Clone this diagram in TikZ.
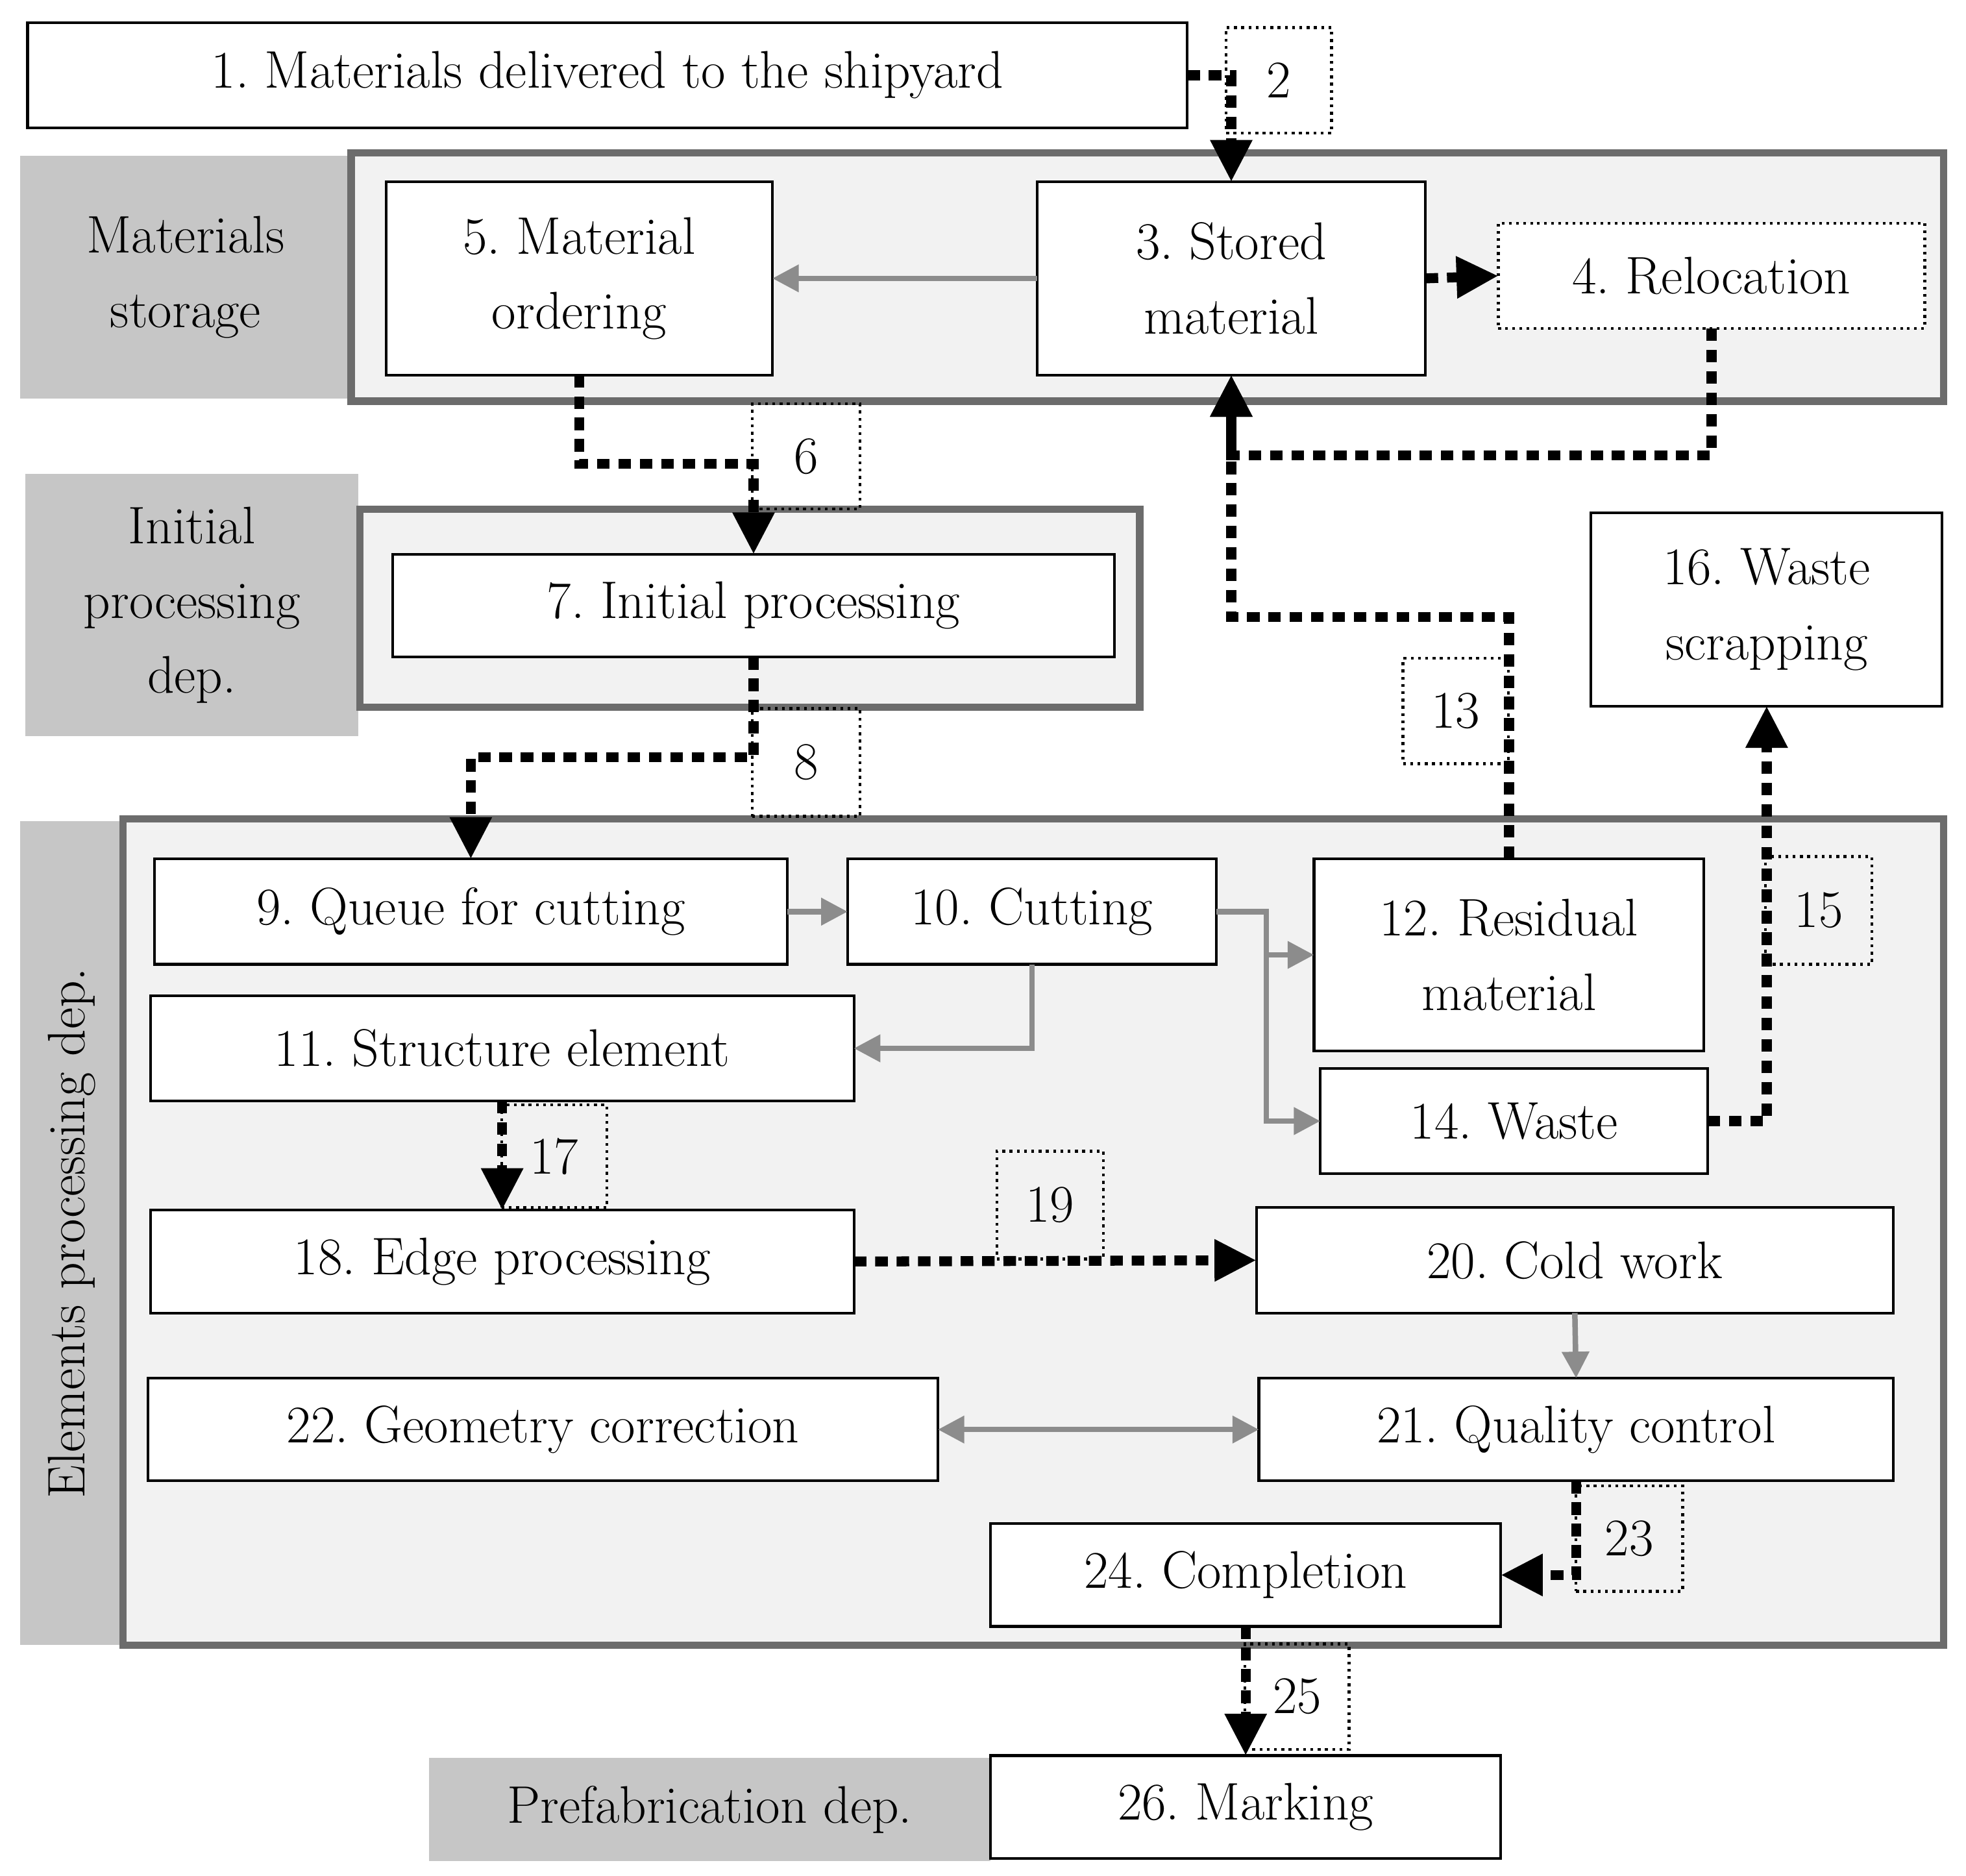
\documentclass[tikz,border=0pt]{standalone}
\usepackage{tikz}
\usetikzlibrary{arrows.meta}
\frenchspacing

\begin{document}
\begin{tikzpicture}[
x=0.02cm, y=-0.02cm,
font=\fontsize{24}{34}\selectfont,
sz/.style 2 args={minimum width=#1*0.02cm, minimum height=#2*0.02cm},
box/.style={draw=black, line width=1.2pt, fill=white, align=center, inner sep=0pt, outer sep=0pt},
tag/.style={draw=black, line width=1.3pt, dotted, inner sep=0pt, outer sep=0pt},
lab/.style={fill=gray!45, align=center, inner sep=0pt},
grp/.style={draw=gray!85!black, fill=gray!10, line width=3.4pt, inner sep=0pt},
dotarr/.style={line width=4.5pt, dash pattern=on 5.7pt off 4pt, -{Triangle[length=19pt,width=18pt]}},
grayarr/.style={gray!90, line width=2.5pt, -{Triangle[length=12pt,width=12pt]}},
]
\useasboundingbox (0,0) rectangle (1568,1496);

% groups
\node[lab, sz={264}{194}] (labA) at (148,221) {Materials\\storage};
\node[grp, sz={1270}{198}] (grpA) at (915,221) {};
\node[lab, sz={266}{209}] (labB) at (153,482.5) {Initial\\processing\\dep.};
\node[grp, sz={622}{158}] (grpB) at (598,485) {};
\node[lab, sz={82}{657}] (labC) at (57,983.5) {};
\node[rotate=90] at (57,983.5) {Elements processing dep.};
\node[grp, sz={1452}{659}] (grpC) at (824,982.5) {};
\node[lab, sz={448}{82}] (labD) at (566,1443) {Prefabrication dep.};

% boxes
\node[box, sz={925}{84}] (n1) at (484.5,60) {1. Materials delivered to the shipyard};
\node[box, sz={308}{154}] (n5) at (462,222) {5. Material\\ordering};
\node[box, sz={310}{154}] (n3) at (982,222) {3. Stored\\material};
\node[box, sz={340}{84}, dotted, line width=1.3pt] (n4) at (1365,220) {4. Relocation};
\node[box, sz={576}{82}] (n7) at (601,483) {7. Initial processing};
\node[box, sz={280}{154}] (n16) at (1409,486) {16. Waste\\scrapping};
\node[box, sz={505}{84}] (n9) at (375.5,727) {9. Queue for cutting};
\node[box, sz={294}{84}] (n10) at (823,727) {10. Cutting};
\node[box, sz={311}{153}] (n12) at (1203.5,761.5) {12. Residual\\material};
\node[box, sz={309}{84}] (n14) at (1207.5,894) {14. Waste};
\node[box, sz={561}{84}] (n11) at (400.5,836) {11. Structure element};
\node[box, sz={561}{82}] (n18) at (400.5,1006) {18. Edge processing};
\node[box, sz={508}{84}] (n20) at (1256,1005) {20. Cold work};
\node[box, sz={630}{82}] (n22) at (433,1140) {22. Geometry correction};
\node[box, sz={506}{82}] (n21) at (1257,1140) {21. Quality control};
\node[box, sz={407}{82}] (n24) at (993.5,1256) {24. Completion};
\node[box, sz={407}{82}] (n26) at (993.5,1441) {26. Marking};

% step tags
\node[tag, sz={84}{84}] (t2) at (1020,64) {2};
\node[tag, sz={86}{84}] (t6) at (643,364) {6};
\node[tag, sz={86}{86}] (t8) at (643,608) {8};
\node[tag, sz={84}{84}] (t13) at (1161,567) {13};
\node[tag, sz={85}{86}] (t15) at (1450.5,726) {15};
\node[tag, sz={84}{82}] (t17) at (442,922) {17};
\node[tag, sz={85}{86}] (t19) at (837.5,961) {19};
\node[tag, sz={85}{84}] (t23) at (1299.5,1227) {23};
\node[tag, sz={83}{84}] (t25) at (1034.5,1353) {25};

% flows
\draw[dotarr] (n1.east) -| (n3.north);
\draw[grayarr] (n3.west) -- (n5.east);
\draw[dotarr] (n3.east) -- (n4.west);
\draw[dotarr] (n5.south) -- ++(0,71) -| (n7.north);
\draw[dotarr] (n7.south) -- ++(0,80) -| (n9.north);
\draw[dotarr] (n4.south) -- ++(0,101) -| (n3.south);
\draw[dotarr] (n12.north) -- ++(0,-193) -| (n3.south);
\draw[grayarr] (n9.east) -- (n10.west);
\draw[grayarr] (n10.east) -- ++(40,0) |- (n12.west);
\draw[grayarr] (n10.east) -- ++(40,0) |- (n14.west);
\draw[grayarr] (n10.south) |- (n11.east);
\draw[dotarr] (n14.east) -| (n16.south);
\draw[dotarr] (n11.south) -- (n18.north);
\draw[dotarr] (n18.east) -- (n20.west);
\draw[grayarr] (n20.south) -- (n21.north);
\draw[grayarr, {Triangle[length=12pt,width=12pt]}-{Triangle[length=12pt,width=12pt]}] (n22.east) -- (n21.west);
\draw[dotarr] (n21.south) |- (n24.east);
\draw[dotarr] (n24.south) -- (n26.north);
\end{tikzpicture}
\end{document}
